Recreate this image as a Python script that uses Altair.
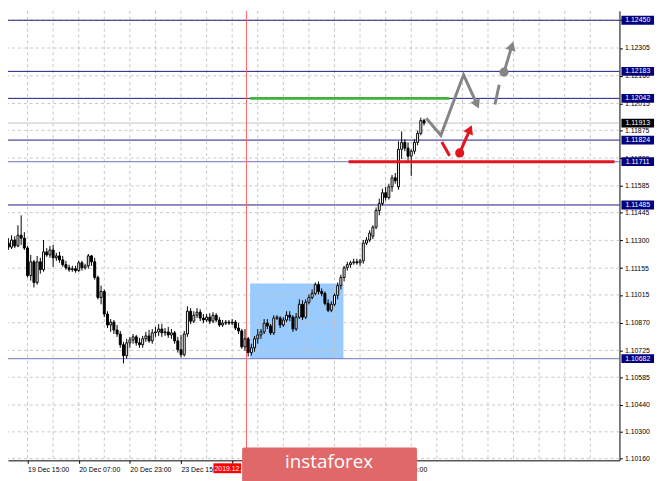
import altair as alt
import pandas as pd

# ---------------- data (EURUSD H1) ----------------
opens = [1.11250, 1.11286, 1.11265, 1.11302, 1.11271, 1.11327, 1.11312, 1.11260, 1.11116, 1.11188,
         1.11080, 1.11188, 1.11147, 1.11240, 1.11224, 1.11250, 1.11209, 1.11219, 1.11198, 1.11173,
         1.11157, 1.11147, 1.11152, 1.11142, 1.11183, 1.11157, 1.11167, 1.11219, 1.11188, 1.11106,
         1.11002, 1.11033, 1.10915, 1.10858, 1.10873, 1.10832, 1.10811, 1.10755, 1.10698, 1.10765,
         1.10780, 1.10796, 1.10765, 1.10755, 1.10786, 1.10801, 1.10775, 1.10817, 1.10822, 1.10837,
         1.10817, 1.10822, 1.10806, 1.10817, 1.10775, 1.10729, 1.10703, 1.10811, 1.10930, 1.10878,
         1.10909, 1.10925, 1.10894, 1.10884, 1.10899, 1.10878, 1.10909, 1.10884, 1.10858, 1.10868,
         1.10873, 1.10868, 1.10873, 1.10842, 1.10827, 1.10744, 1.10786, 1.10714, 1.10739, 1.10786,
         1.10806, 1.10822, 1.10868, 1.10853, 1.10817, 1.10894, 1.10894, 1.10858, 1.10884, 1.10909,
         1.10899, 1.10837, 1.10899, 1.10966, 1.10899, 1.10977, 1.11002, 1.11023, 1.11069, 1.11033,
         1.11023, 1.10971, 1.10935, 1.10966, 1.11013, 1.11064, 1.11106, 1.11157, 1.11173, 1.11183,
         1.11188, 1.11183, 1.11193, 1.11286, 1.11302, 1.11322, 1.11369, 1.11456, 1.11493, 1.11549,
         1.11524, 1.11580, 1.11627, 1.11580, 1.11776, 1.11812, 1.11782, 1.11740, 1.11766, 1.11812,
         1.11859, 1.11926]
closes = [1.11286, 1.11265, 1.11302, 1.11271, 1.11327, 1.11312, 1.11260, 1.11116, 1.11188, 1.11080,
          1.11188, 1.11147, 1.11240, 1.11224, 1.11250, 1.11209, 1.11219, 1.11198, 1.11173, 1.11157,
          1.11147, 1.11152, 1.11142, 1.11183, 1.11157, 1.11167, 1.11219, 1.11188, 1.11106, 1.11002,
          1.11033, 1.10915, 1.10858, 1.10873, 1.10832, 1.10811, 1.10755, 1.10698, 1.10765, 1.10780,
          1.10796, 1.10765, 1.10755, 1.10786, 1.10801, 1.10775, 1.10817, 1.10822, 1.10837, 1.10817,
          1.10822, 1.10806, 1.10817, 1.10775, 1.10729, 1.10703, 1.10811, 1.10930, 1.10878, 1.10909,
          1.10925, 1.10894, 1.10884, 1.10899, 1.10878, 1.10909, 1.10884, 1.10858, 1.10868, 1.10873,
          1.10868, 1.10873, 1.10842, 1.10827, 1.10744, 1.10786, 1.10714, 1.10739, 1.10786, 1.10806,
          1.10822, 1.10868, 1.10853, 1.10817, 1.10894, 1.10899, 1.10858, 1.10884, 1.10909, 1.10899,
          1.10837, 1.10899, 1.10966, 1.10899, 1.10977, 1.11002, 1.11023, 1.11069, 1.11033, 1.11023,
          1.10971, 1.10935, 1.10966, 1.11013, 1.11064, 1.11106, 1.11157, 1.11173, 1.11183, 1.11188,
          1.11183, 1.11193, 1.11286, 1.11302, 1.11338, 1.11369, 1.11456, 1.11493, 1.11549, 1.11524,
          1.11580, 1.11627, 1.11611, 1.11776, 1.11812, 1.11782, 1.11740, 1.11766, 1.11812, 1.11859,
          1.11926, 1.11913]
highs = [1.11302, 1.11312, 1.11327, 1.11322, 1.11379, 1.11431, 1.11343, 1.11271, 1.11224, 1.11198,
         1.11219, 1.11209, 1.11302, 1.11260, 1.11271, 1.11276, 1.11235, 1.11240, 1.11219, 1.11193,
         1.11173, 1.11167, 1.11167, 1.11193, 1.11193, 1.11178, 1.11229, 1.11224, 1.11209, 1.11116,
         1.11064, 1.11044, 1.10930, 1.10889, 1.10884, 1.10858, 1.10827, 1.10770, 1.10786, 1.10796,
         1.10811, 1.10806, 1.10791, 1.10801, 1.10822, 1.10832, 1.10837, 1.10848, 1.10863, 1.10863,
         1.10842, 1.10848, 1.10837, 1.10827, 1.10796, 1.10806, 1.10827, 1.10956, 1.10946, 1.10930,
         1.10946, 1.10940, 1.10915, 1.10915, 1.10920, 1.10925, 1.10920, 1.10899, 1.10884, 1.10884,
         1.10884, 1.10889, 1.10884, 1.10868, 1.10837, 1.10837, 1.10796, 1.10760, 1.10801, 1.10837,
         1.10837, 1.10889, 1.10889, 1.10863, 1.10909, 1.10909, 1.10904, 1.10899, 1.10930, 1.10930,
         1.10909, 1.10920, 1.10992, 1.10987, 1.10992, 1.11018, 1.11044, 1.11080, 1.11085, 1.11049,
         1.11033, 1.10992, 1.10982, 1.11023, 1.11080, 1.11121, 1.11167, 1.11188, 1.11193, 1.11204,
         1.11204, 1.11204, 1.11302, 1.11317, 1.11353, 1.11379, 1.11472, 1.11518, 1.11570, 1.11580,
         1.11596, 1.11642, 1.11652, 1.11818, 1.11869, 1.11828, 1.11812, 1.11776, 1.11828, 1.11874,
         1.11941, 1.11936]
lows = [1.11240, 1.11250, 1.11255, 1.11260, 1.11265, 1.11276, 1.11250, 1.11106, 1.11090, 1.11054,
        1.11069, 1.11126, 1.11136, 1.11214, 1.11209, 1.11162, 1.11193, 1.11183, 1.11162, 1.11147,
        1.11136, 1.11136, 1.11131, 1.11136, 1.11142, 1.11147, 1.11152, 1.11167, 1.11095, 1.10992,
        1.10966, 1.10899, 1.10842, 1.10822, 1.10811, 1.10796, 1.10739, 1.10657, 1.10682, 1.10739,
        1.10760, 1.10750, 1.10739, 1.10739, 1.10770, 1.10765, 1.10760, 1.10796, 1.10801, 1.10796,
        1.10801, 1.10791, 1.10786, 1.10760, 1.10714, 1.10688, 1.10693, 1.10796, 1.10863, 1.10868,
        1.10894, 1.10878, 1.10868, 1.10873, 1.10863, 1.10868, 1.10873, 1.10848, 1.10848, 1.10858,
        1.10858, 1.10858, 1.10832, 1.10811, 1.10734, 1.10724, 1.10693, 1.10698, 1.10719, 1.10760,
        1.10786, 1.10811, 1.10837, 1.10806, 1.10806, 1.10884, 1.10842, 1.10848, 1.10873, 1.10878,
        1.10822, 1.10827, 1.10889, 1.10884, 1.10889, 1.10966, 1.10992, 1.11013, 1.11018, 1.11008,
        1.10961, 1.10925, 1.10925, 1.10956, 1.10992, 1.11044, 1.11085, 1.11142, 1.11157, 1.11173,
        1.11173, 1.11167, 1.11178, 1.11276, 1.11291, 1.11307, 1.11358, 1.11431, 1.11482, 1.11508,
        1.11513, 1.11554, 1.11596, 1.11565, 1.11725, 1.11766, 1.11704, 1.11637, 1.11751, 1.11797,
        1.11849, 1.11900]

# price axis ticks and bar-index time ticks
y_ticks = [1.12450, 1.12305, 1.12160, 1.12015, 1.11875, 1.11730, 1.11585, 1.11445, 1.11300,
           1.11155, 1.11015, 1.10870, 1.10725, 1.10585, 1.10440, 1.10300, 1.10160]
x_grid_idx = [7, 15, 23, 31, 39, 47, 55, 63, 71, 79, 87, 95, 103, 111, 119, 127, 135, 143, 151,
              159, 167, 175, 183]
x_label_idx = [7, 23, 39, 55, 71, 87, 103, 119]
# labels at 71, 87 and 103 sit fully under the watermark in the reference
x_labels = ["19 Dec 15:00", "20 Dec 07:00", "20 Dec 23:00", "23 Dec 15:00",
            "", "", "", "26 Dec 06:00"]

# horizontal levels
levels = [1.12450, 1.12183, 1.12042, 1.11824, 1.11711, 1.11485, 1.10682]
level_kind = ["navy", "navy", "navy", "navy", "light", "navy", "light"]
current_price = 1.11913

# annotations (bar index / price)
vline_idx = 75.47
vline_label = "2019.12.2"   # visible part of the vertical line's date tag
zone_x = [76.6, 105.8]
zone_p = [1.10682, 1.11075]
green_x = [76.6, 138.9]
green_p = 1.12042
red_x_start = 107.4
red_p = 1.11711

gray_path_i = [131.70, 136.26, 143.37, 147.57]
gray_path_p = [1.11938, 1.11849, 1.12165, 1.12010]
gray_dash_i = [153.19, 154.50]
gray_dash_p = [1.12010, 1.12113]
gray_up_i = [156.02, 158.48]
gray_up_p = [1.12179, 1.12316]
red_path_i = [136.56, 139.00]
red_path_p = [1.11814, 1.11742]
red_up_i = [142.16, 145.38]
red_up_p = [1.11757, 1.11880]

# ---------------- chart ----------------
X_MIN, X_MAX = 2.43, 190.58
Y_MIN, Y_MAX = 1.10151, 1.12499
xs = alt.Scale(domain=[X_MIN, X_MAX], nice=False, zero=False)
ys = alt.Scale(domain=[Y_MIN, Y_MAX], nice=False, zero=False)
FONT = "Liberation Sans"
GRAY = "#858585"
RED = "#e3161f"

lab_expr = " : ".join(f"datum.value == {i} ? '{s}'" for i, s in zip(x_label_idx, x_labels)) + " : ''"

AX = alt.Axis(orient="bottom", values=x_label_idx, labelExpr=lab_expr, grid=False, title=None,
              tickSize=3, tickColor="black", domainColor="black", labelAlign="left",
              labelFont=FONT, labelFontSize=7, labelColor="black", labelPadding=2,
              labelOverlap=False, labelFlush=False, zindex=0)
AY = alt.Axis(orient="right", values=y_ticks, format=".5f", grid=False, title=None,
              tickSize=3, tickColor="black", domainColor="black",
              labelFont=FONT, labelFontSize=7, labelColor="black", labelPadding=2,
              labelOverlap=False, labelFlush=False, zindex=0)


def X(f):
    return alt.X(f, type="quantitative", scale=xs, axis=AX, title=None)


def Y(f):
    return alt.Y(f, type="quantitative", scale=ys, axis=AY, title=None)


candles = pd.DataFrame({"i": list(range(len(closes))), "open": opens, "high": highs,
                        "low": lows, "close": closes})

zone = alt.Chart(pd.DataFrame({"x1": [zone_x[0]], "x2": [zone_x[1]], "p1": [zone_p[0]], "p2": [zone_p[1]]})).mark_rect(
    color="#99cbff", clip=True).encode(x=X("x1"), x2="x2", y=Y("p1"), y2="p2")

xgrid = alt.Chart(pd.DataFrame({"g": x_grid_idx})).mark_rule(
    color="#c6c6c6", strokeDash=[3, 3], strokeWidth=1).encode(x=X("g"))
ygrid = alt.Chart(pd.DataFrame({"p": y_ticks})).mark_rule(
    color="#c6c6c6", strokeDash=[3, 3], strokeWidth=1).encode(y=Y("p"))

level_df = pd.DataFrame({"p": levels, "kind": level_kind})
level_lines = alt.Chart(level_df).mark_rule(strokeWidth=1).encode(
    y=Y("p"),
    color=alt.Color("kind:N", scale=alt.Scale(domain=["navy", "light"], range=["#1a1a80", "#7171c4"]), legend=None))

cur_line = alt.Chart(pd.DataFrame({"p": [current_price]})).mark_rule(color="#c4c4c4", strokeWidth=1).encode(y=Y("p"))
vline = alt.Chart(pd.DataFrame({"i": [vline_idx]})).mark_rule(color="#ff6464", strokeWidth=1).encode(x=X("i"))

wicks = alt.Chart(candles).mark_rule(color="black", strokeWidth=1, clip=True).encode(
    x=X("i"), y=Y("low"), y2="high")
bodies = alt.Chart(candles).mark_bar(size=2, stroke="black", strokeWidth=1, clip=True).encode(
    x=X("i"), y=Y("open"), y2="close",
    fill=alt.condition("datum.close > datum.open", alt.value("white"), alt.value("black")))

green = alt.Chart(pd.DataFrame({"x1": [green_x[0]], "x2": [green_x[1]], "p": [green_p]})).mark_rule(
    color="#3db33d", strokeWidth=3).encode(x=X("x1"), x2="x2", y=Y("p"))
redline = alt.Chart(pd.DataFrame({"x1": [red_x_start], "x2": [X_MAX], "p": [red_p]})).mark_rule(
    color=RED, strokeWidth=3, clip=True).encode(x=X("x1"), x2="x2", y=Y("p"))


def seg(xv, pv, color, width=3):
    return alt.Chart(pd.DataFrame({"i": xv, "p": pv, "k": list(range(len(xv)))})).mark_line(
        color=color, strokeWidth=width, strokeJoin="miter", strokeCap="butt").encode(
        x=X("i"), y=Y("p"), order="k:Q")


def dot(xv, pv, color):
    return alt.Chart(pd.DataFrame({"i": [xv], "p": [pv]})).mark_circle(
        color=color, size=85, opacity=1).encode(x=X("i"), y=Y("p"))


def head(xv, pv, color, ang):
    return alt.Chart(pd.DataFrame({"i": [xv], "p": [pv]})).mark_point(
        shape="triangle-up", filled=True, size=110, angle=ang, color=color, opacity=1).encode(
        x=X("i"), y=Y("p"))


proj = [
    seg(gray_path_i, gray_path_p, GRAY),
    head(gray_path_i[-1], gray_path_p[-1], GRAY, 155),
    seg(gray_dash_i, gray_dash_p, GRAY),
    seg(gray_up_i, gray_up_p, GRAY),
    dot(gray_up_i[0], gray_up_p[0], GRAY),
    head(gray_up_i[-1], gray_up_p[-1], GRAY, 17),
    seg(red_path_i, red_path_p, RED),
    seg(red_up_i, red_up_p, RED),
    dot(red_up_i[0], red_up_p[0], RED),
    head(red_up_i[-1], red_up_p[-1], RED, 24),
]

# price boxes on the right axis
box_prices = levels + [current_price]
box_kind = ["box"] * len(levels) + ["cur"]
box_df = pd.DataFrame({"p": box_prices, "kind": box_kind,
                       "lo": [v - 0.00023 for v in box_prices],
                       "hi": [v + 0.00023 for v in box_prices],
                       "lbl": [f"{v:.5f}" for v in box_prices]})
boxes = alt.Chart(box_df).mark_rect().encode(
    x=alt.value(621), x2=alt.value(654), y=Y("lo"), y2="hi",
    fill=alt.Color("kind:N", scale=alt.Scale(domain=["box", "cur"], range=["#00007e", "#000000"]), legend=None))
box_text = alt.Chart(box_df).mark_text(color="white", font=FONT, fontSize=7, align="center",
                                       baseline="middle").encode(
    x=alt.value(637.5), y=Y("p"), text="lbl:N")

one = pd.DataFrame({"a": [0]})
date_box = alt.Chart(one).mark_rect(color="#ff0000").encode(
    x=alt.value(208), x2=alt.value(236), y=alt.value(458), y2=alt.value(468))
date_text = alt.Chart(one).mark_text(color="white", font=FONT, fontSize=7, align="left",
                                     baseline="middle", text=vline_label).encode(
    x=alt.value(209), y=alt.value(463.5))
logo = alt.Chart(one).mark_rect(color="#e06868", cornerRadius=2).encode(
    x=alt.value(237), x2=alt.value(414), y=alt.value(442), y2=alt.value(480))
logo_text = alt.Chart(one).mark_text(color="white", font="Open Sans", fontSize=19, align="center",
                                     baseline="middle", text="instaforex").encode(
    x=alt.value(325), y=alt.value(457))

chart = alt.layer(
    zone, xgrid, ygrid, level_lines, cur_line, vline, wicks, bodies, green, redline,
    *proj, boxes, box_text, date_box, date_text, logo, logo_text
).properties(
    width=619, height=455,
    autosize=alt.AutoSizeParams(type="none"),
    padding={"left": 0, "top": 0, "right": 38, "bottom": 18},
    background="white",
).configure_view(stroke=None)

chart.save("out.html", embed_options={"renderer": "svg", "actions": False})
